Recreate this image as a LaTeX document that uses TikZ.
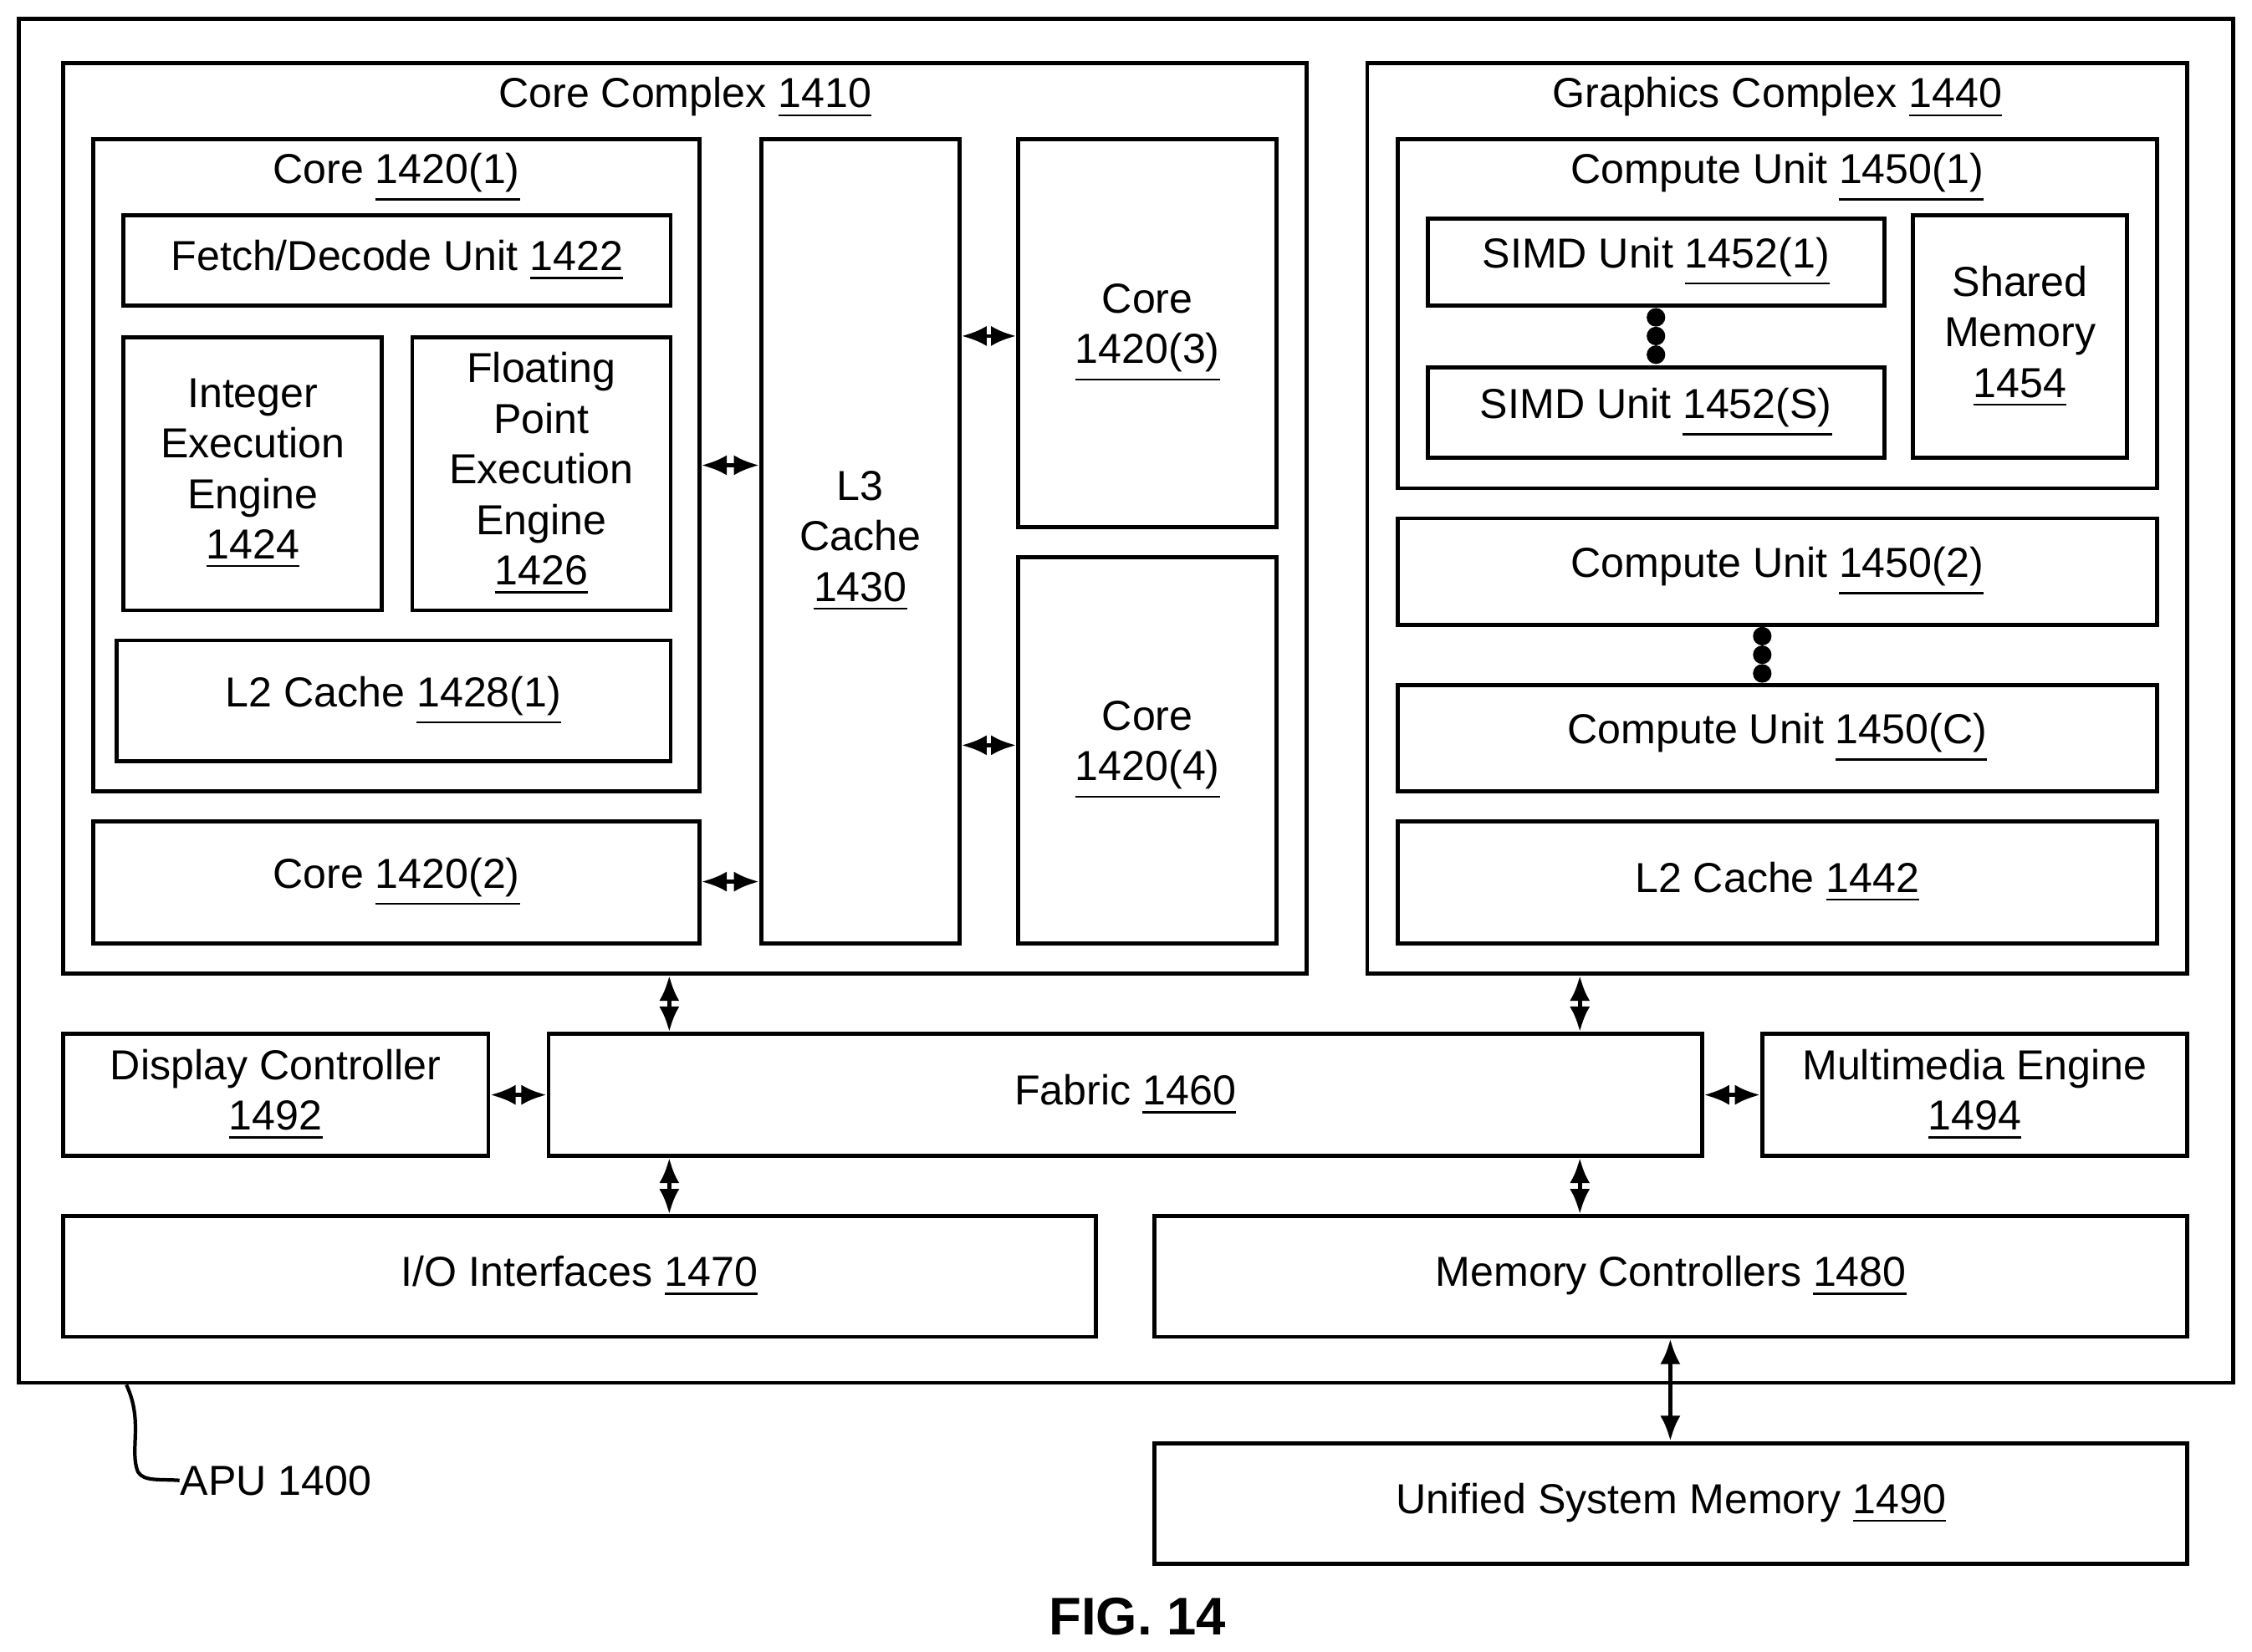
\documentclass[tikz,border=0pt]{standalone}
\usepackage{fontspec}
\setmainfont{Liberation Sans}
\usetikzlibrary{arrows.meta}
\newcommand{\refn}[1]{\underline{#1}}
% block from its corners: name, x1, y1, x2, y2, options, text
\newcommand{\blk}[7][]{%
  \node [box, minimum width={(#4-#2)*0.01cm}, minimum height={(#5-#3)*0.01cm}, #1]
    (#2) at ({(#3+#5)/2},{(#4+#6)/2}) {#7};}
\renewcommand{\blk}[7][]{%
  \node [box, minimum width={(#5-#3)*0.01cm}, minimum height={(#6-#4)*0.01cm}, #1]
    (#2) at ({(#3+#5)/2},{(#4+#6)/2}) {#7};}

\begin{document}
\begin{tikzpicture}[x=0.01cm, y=-0.01cm, >={Latex[length=5pt,width=4pt]},
  font=\fontsize{8.3}{10}\selectfont]
  \tikzstyle{box} = [draw, line width=0.8pt, inner sep=0pt, align=center]
  \tikzstyle{ttl} = [anchor=north, inner sep=3pt]
  \tikzstyle{arr} = [<->, line width=0.8pt]
  \tikzstyle{dot} = [fill, circle, inner sep=1.3pt]
  \useasboundingbox (0,0) rectangle (1568,1150);

  % outer blocks
  \blk{apu}{13}{13}{1555}{963}{}
  \blk[label={[ttl]north:Core Complex \refn{1410}}]{cc}{44}{44}{910}{678}{}
  \blk[label={[ttl]north:Graphics Complex \refn{1440}}]{gc}{952}{44}{1523}{678}{}

  % core complex
  \blk[label={[ttl]north:Core \refn{1420(1)}}]{core1}{65}{97}{487}{551}{}
  \blk{fetch}{86}{150}{467}{213}{Fetch/Decode Unit \refn{1422}}
  \blk{intex}{86}{235}{266}{425}{Integer\\Execution\\Engine\\\refn{1424}}
  \blk{fpex}{287}{235}{467}{425}{Floating\\Point\\Execution\\Engine\\\refn{1426}}
  \blk{l2c}{81}{446}{467}{530}{L2 Cache \refn{1428(1)}}
  \blk{core2}{65}{572}{487}{657}{Core \refn{1420(2)}}
  \blk{l3}{530}{97}{668}{657}{L3\\Cache\\\refn{1430}}
  \blk{core3}{709}{97}{889}{367}{Core\\\refn{1420(3)}}
  \blk{core4}{709}{388}{889}{657}{Core\\\refn{1420(4)}}

  % graphics complex
  \blk[label={[ttl]north:Compute Unit \refn{1450(1)}}]{cu1}{973}{97}{1502}{340}{}
  \blk{simd1}{994}{152}{1312}{213}{SIMD Unit \refn{1452(1)}}
  \blk{simds}{994}{256}{1312}{319}{SIMD Unit \refn{1452(S)}}
  \blk{shm}{1332}{150}{1481}{319}{Shared\\Memory\\\refn{1454}}
  \blk{cu2}{973}{361}{1502}{435}{Compute Unit \refn{1450(2)}}
  \blk{cuc}{973}{477}{1502}{551}{Compute Unit \refn{1450(C)}}
  \blk{l2g}{973}{572}{1502}{657}{L2 Cache \refn{1442}}
  \foreach \y in {221,234,247} \node [dot] at (1153,\y) {};
  \foreach \y in {443,456,469} \node [dot] at (1227,\y) {};

  % fabric and periphery
  \blk{fab}{382}{720}{1185}{805}{Fabric \refn{1460}}
  \blk{disp}{44}{720}{340}{805}{Display Controller\\\refn{1492}}
  \blk{mme}{1227}{720}{1523}{805}{Multimedia Engine\\\refn{1494}}
  \blk{io}{44}{847}{763}{931}{I/O Interfaces \refn{1470}}
  \blk{memc}{804}{847}{1523}{931}{Memory Controllers \refn{1480}}
  \blk{usm}{804}{1005}{1523}{1089}{Unified System Memory \refn{1490}}

  \node [anchor=west, inner sep=0pt] (apul) at (125,1031) {APU 1400};
  \node [font=\fontsize{10.5}{12}\selectfont\bfseries] (fig) at (792,1126) {FIG. 14};

  \draw [arr] (core1.east |- 0,324) -- (l3.west |- 0,324);
  \draw [arr] (core2.east |- 0,614) -- (l3.west |- 0,614);
  \draw [arr] (l3.east |- 0,234) -- (core3.west |- 0,234);
  \draw [arr] (l3.east |- 0,519) -- (core4.west |- 0,519);
  \draw [arr] (cc.south -| 466,0) -- (fab.north -| 466,0);
  \draw [arr] (gc.south -| 1100,0) -- (fab.north -| 1100,0);
  \draw [arr] (fab.south -| 466,0) -- (io.north -| 466,0);
  \draw [arr] (fab.south -| 1100,0) -- (memc.north -| 1100,0);
  \draw [arr] (disp.east) -- (fab.west |- disp.east);
  \draw [arr] (fab.east |- mme.west) -- (mme.west);
  \draw [arr] (memc.south -| 1163,0) -- (usm.north -| 1163,0);
  \draw [line width=0.7pt] (apu.south -| 88,0) .. controls (100,990) and (90,1010) .. (96,1025)
    .. controls (100,1032) and (112,1030) .. (apul.west);
\end{tikzpicture}
\end{document}
